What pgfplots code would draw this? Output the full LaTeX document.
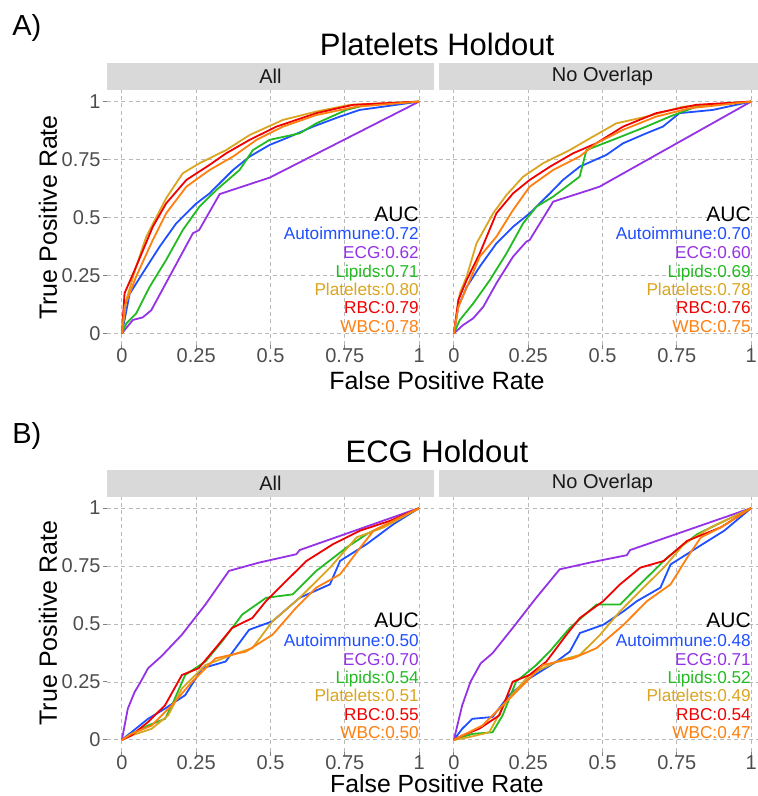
\documentclass[border=0pt]{standalone}
\usepackage{fontspec}
\setmainfont{Liberation Sans}
\usepackage{pgfplots}
\pgfplotsset{compat=1.18}

\definecolor{cAuto}{HTML}{1F4FFF}
\definecolor{cECG}{HTML}{9532E6}
\definecolor{cLip}{HTML}{22BB22}
\definecolor{cPlt}{HTML}{DAA520}
\definecolor{cRBC}{HTML}{F00000}
\definecolor{cWBC}{HTML}{FF7F0F}
\definecolor{stripgray}{HTML}{D9D9D9}
\definecolor{tickgray}{HTML}{4D4D4D}

\pgfplotsset{
  roc/.style={
    scale only axis, width=163.5pt, height=127.5pt,
    anchor=north west, clip=false,
    xmin=-0.05, xmax=1.05, ymin=-0.05, ymax=1.05,
    xtick={0,0.25,0.5,0.75,1}, ytick={0,0.25,0.5,0.75,1},
    xticklabels={0,0.25,0.5,0.75,1}, yticklabels={0,0.25,0.5,0.75,1},
    xtick pos=bottom, ytick pos=left,
    axis line style={draw=none},
    grid=major, major grid style={gray!55, line width=0.45pt, dash pattern=on 2pt off 1.6pt},
    tick align=outside, major tick length=2pt,
    tick style={tickgray!70, line width=0.5pt},
    ticklabel style={font=\fontsize{10}{12}\selectfont, text=tickgray, inner sep=1pt},
    xticklabel style={yshift=1.2pt},
    every axis plot/.append style={line width=0.9pt, no marks},
  },
  inner/.style={yticklabels={}, ytick style={draw=none}},
}
\newcommand{\strip}[1]{%
  \fill[stripgray] (rel axis cs:0,1) rectangle ([yshift=13.5pt]rel axis cs:1,1);
  \node[font=\fontsize{10}{12}\selectfont, text=black!90] at ([yshift=6.75pt]rel axis cs:0.5,1) {#1};}
\newcommand{\auc}[6]{%
  \begin{scope}[every node/.style={anchor=base east, inner sep=0pt, font=\fontsize{8.6}{10}\selectfont}]
  \node[font=\fontsize{10.5}{12}\selectfont] at (axis cs:1,0.483) {AUC};
  \node[text=cAuto] at (axis cs:1,0.403) {Autoimmune:#1};
  \node[text=cECG] at (axis cs:1,0.323) {ECG:#2};
  \node[text=cLip] at (axis cs:1,0.243) {Lipids:#3};
  \node[text=cPlt] at (axis cs:1,0.164) {Platelets:#4};
  \node[text=cRBC] at (axis cs:1,0.084) {RBC:#5};
  \node[text=cWBC] at (axis cs:1,0.004) {WBC:#6};
  \end{scope}}

\begin{document}
\begin{tikzpicture}
\useasboundingbox (0,0) rectangle (379pt,-398pt);

% ---------------- A) Platelets holdout
\node[anchor=base west, inner sep=0pt, font=\fontsize{14.5}{18}\selectfont] at (6pt,-18pt) {A)};
\node[anchor=base, font=\fontsize{15.5}{18}\selectfont] at (218.5pt,-28pt) {Platelets Holdout};
\node[rotate=90, font=\fontsize{12.5}{14}\selectfont] at (24pt,-108.75pt) {True Positive Rate};
\node[anchor=base, inner sep=0pt, font=\fontsize{12.5}{14}\selectfont] at (218.5pt,-194.8pt) {False Positive Rate};

\begin{axis}[roc, at={(53.5pt,-45pt)}]
\addplot[cAuto] coordinates {(0,0) (0.009,0.058) (0.026,0.17) (0.07,0.26) (0.127,0.374) (0.183,0.475) (0.25,0.56) (0.295,0.604) (0.374,0.705) (0.43,0.763) (0.497,0.813) (0.553,0.842) (0.643,0.892) (0.733,0.935) (0.80,0.964) (0.879,0.978) (1,1)};
\addplot[cECG] coordinates {(0,0) (0.037,0.058) (0.07,0.069) (0.099,0.10) (0.239,0.432) (0.26,0.446) (0.329,0.601) (0.497,0.672) (1,1)};
\addplot[cLip] coordinates {(0,0) (0.015,0.043) (0.048,0.086) (0.093,0.2) (0.149,0.317) (0.205,0.446) (0.261,0.547) (0.318,0.619) (0.396,0.705) (0.441,0.791) (0.497,0.835) (0.598,0.863) (0.654,0.906) (0.755,0.964) (0.823,0.986) (1,1)};
\addplot[cPlt] coordinates {(0,0) (0.015,0.144) (0.048,0.288) (0.082,0.417) (0.149,0.583) (0.205,0.691) (0.261,0.734) (0.351,0.791) (0.43,0.856) (0.542,0.921) (0.654,0.957) (0.767,0.986) (1,1)};
\addplot[cRBC] coordinates {(0,0) (0.009,0.173) (0.048,0.288) (0.104,0.46) (0.149,0.561) (0.217,0.662) (0.295,0.727) (0.351,0.777) (0.43,0.835) (0.52,0.892) (0.654,0.95) (0.778,0.986) (1,1)};
\addplot[cWBC] coordinates {(0,0) (0.009,0.115) (0.048,0.245) (0.104,0.403) (0.149,0.518) (0.217,0.633) (0.295,0.705) (0.374,0.763) (0.453,0.835) (0.542,0.892) (0.654,0.942) (0.789,0.978) (1,1)};
\strip{All}
\auc{0.72}{0.62}{0.71}{0.80}{0.79}{0.78}
\end{axis}

\begin{axis}[roc, inner, at={(219.5pt,-45pt)}]
\addplot[cAuto] coordinates {(0,0) (0.015,0.115) (0.043,0.2) (0.087,0.288) (0.143,0.388) (0.199,0.46) (0.255,0.518) (0.323,0.604) (0.367,0.662) (0.423,0.719) (0.513,0.77) (0.569,0.82) (0.647,0.863) (0.703,0.892) (0.759,0.95) (0.871,0.964) (1,1)};
\addplot[cECG] coordinates {(0,0) (0.031,0.036) (0.065,0.065) (0.099,0.115) (0.143,0.216) (0.199,0.331) (0.244,0.396) (0.255,0.403) (0.334,0.568) (0.345,0.573) (0.457,0.619) (0.49,0.633) (1,1)};
\addplot[cLip] coordinates {(0,0) (0.02,0.058) (0.065,0.129) (0.121,0.23) (0.177,0.345) (0.233,0.475) (0.278,0.547) (0.334,0.59) (0.423,0.676) (0.446,0.791) (0.535,0.835) (0.647,0.892) (0.726,0.935) (0.815,0.978) (1,1)};
\addplot[cPlt] coordinates {(0,0) (0.02,0.173) (0.043,0.245) (0.076,0.388) (0.132,0.518) (0.177,0.597) (0.233,0.676) (0.3,0.734) (0.39,0.791) (0.468,0.849) (0.546,0.906) (0.647,0.935) (0.77,0.978) (1,1)};
\addplot[cRBC] coordinates {(0,0) (0.015,0.144) (0.043,0.23) (0.087,0.345) (0.143,0.518) (0.199,0.604) (0.255,0.662) (0.323,0.719) (0.401,0.777) (0.479,0.82) (0.569,0.892) (0.68,0.95) (0.815,0.986) (1,1)};
\addplot[cWBC] coordinates {(0,0) (0.015,0.115) (0.054,0.23) (0.087,0.331) (0.143,0.417) (0.199,0.532) (0.255,0.633) (0.334,0.705) (0.423,0.763) (0.479,0.82) (0.569,0.878) (0.68,0.935) (0.792,0.971) (1,1)};
\strip{No Overlap}
\auc{0.70}{0.60}{0.69}{0.78}{0.76}{0.75}
\end{axis}

% ---------------- B) ECG holdout
\node[anchor=base west, inner sep=0pt, font=\fontsize{14.5}{18}\selectfont] at (6pt,-221.5pt) {B)};
\node[anchor=base, font=\fontsize{15.5}{18}\selectfont] at (218.5pt,-231pt) {ECG Holdout};
\node[rotate=90, font=\fontsize{12.5}{14}\selectfont] at (24pt,-311.5pt) {True Positive Rate};
\node[anchor=base, inner sep=0pt, font=\fontsize{12.4}{14}\selectfont] at (218.5pt,-396.2pt) {False Positive Rate};

\begin{axis}[roc, at={(53.5pt,-248.25pt)}]
\addplot[cAuto] coordinates {(0,0) (0.032,0.033) (0.088,0.091) (0.145,0.135) (0.213,0.193) (0.27,0.309) (0.349,0.338) (0.428,0.475) (0.507,0.512) (0.598,0.613) (0.7,0.671) (0.734,0.772) (0.824,0.845) (0.915,0.932) (1,1)};
\addplot[cECG] coordinates {(0,0) (0.02,0.135) (0.043,0.207) (0.06,0.243) (0.088,0.309) (0.134,0.362) (0.202,0.454) (0.281,0.584) (0.36,0.729) (0.462,0.765) (0.587,0.801) (0.598,0.819) (1,1)};
\addplot[cLip] coordinates {(0,0) (0.032,0.026) (0.088,0.062) (0.145,0.091) (0.168,0.149) (0.213,0.28) (0.281,0.338) (0.337,0.425) (0.405,0.541) (0.485,0.613) (0.575,0.628) (0.654,0.729) (0.756,0.83) (0.824,0.888) (1,1)};
\addplot[cPlt] coordinates {(0,0) (0.032,0.019) (0.1,0.048) (0.156,0.106) (0.202,0.222) (0.281,0.323) (0.371,0.367) (0.439,0.396) (0.507,0.512) (0.598,0.613) (0.7,0.743) (0.79,0.874) (0.881,0.917) (1,1)};
\addplot[cRBC] coordinates {(0,0) (0.032,0.019) (0.088,0.077) (0.145,0.149) (0.202,0.28) (0.258,0.309) (0.315,0.396) (0.371,0.483) (0.439,0.526) (0.485,0.599) (0.553,0.686) (0.621,0.772) (0.711,0.845) (0.802,0.903) (0.904,0.946) (1,1)};
\addplot[cWBC] coordinates {(0,0) (0.032,0.026) (0.1,0.062) (0.168,0.149) (0.236,0.251) (0.315,0.352) (0.417,0.381) (0.507,0.454) (0.586,0.57) (0.654,0.657) (0.734,0.714) (0.802,0.83) (0.847,0.903) (0.938,0.961) (1,1)};
\strip{All}
\auc{0.50}{0.70}{0.54}{0.51}{0.55}{0.50}
\end{axis}

\begin{axis}[roc, inner, at={(219.5pt,-248.25pt)}]
\addplot[cAuto] coordinates {(0,0) (0.028,0.048) (0.062,0.091) (0.13,0.099) (0.186,0.193) (0.254,0.265) (0.345,0.338) (0.39,0.381) (0.424,0.461) (0.503,0.497) (0.571,0.555) (0.616,0.599) (0.695,0.657) (0.729,0.757) (0.819,0.83) (0.91,0.903) (1,1)};
\addplot[cECG] coordinates {(0,0) (0.028,0.149) (0.056,0.251) (0.09,0.33) (0.13,0.374) (0.198,0.483) (0.277,0.613) (0.356,0.736) (0.458,0.765) (0.582,0.797) (0.593,0.819) (1,1)};
\addplot[cLip] coordinates {(0,0) (0.062,0.026) (0.13,0.033) (0.164,0.106) (0.209,0.251) (0.277,0.323) (0.322,0.381) (0.39,0.483) (0.48,0.584) (0.559,0.584) (0.638,0.686) (0.718,0.787) (0.819,0.888) (1,1)};
\addplot[cPlt] coordinates {(0,0) (0.051,0.012) (0.119,0.033) (0.175,0.164) (0.254,0.28) (0.345,0.338) (0.424,0.367) (0.492,0.454) (0.559,0.555) (0.638,0.657) (0.706,0.743) (0.774,0.845) (0.864,0.917) (1,1)};
\addplot[cRBC] coordinates {(0,0) (0.028,0.019) (0.085,0.048) (0.153,0.106) (0.198,0.251) (0.254,0.28) (0.311,0.338) (0.379,0.454) (0.424,0.526) (0.503,0.599) (0.559,0.671) (0.627,0.743) (0.706,0.772) (0.785,0.859) (0.898,0.917) (1,1)};
\addplot[cWBC] coordinates {(0,0) (0.028,0.019) (0.096,0.062) (0.164,0.149) (0.232,0.236) (0.299,0.323) (0.401,0.352) (0.48,0.396) (0.571,0.497) (0.65,0.599) (0.729,0.671) (0.785,0.787) (0.831,0.874) (0.898,0.917) (1,1)};
\strip{No Overlap}
\auc{0.48}{0.71}{0.52}{0.49}{0.54}{0.47}
\end{axis}
\end{tikzpicture}
\end{document}
